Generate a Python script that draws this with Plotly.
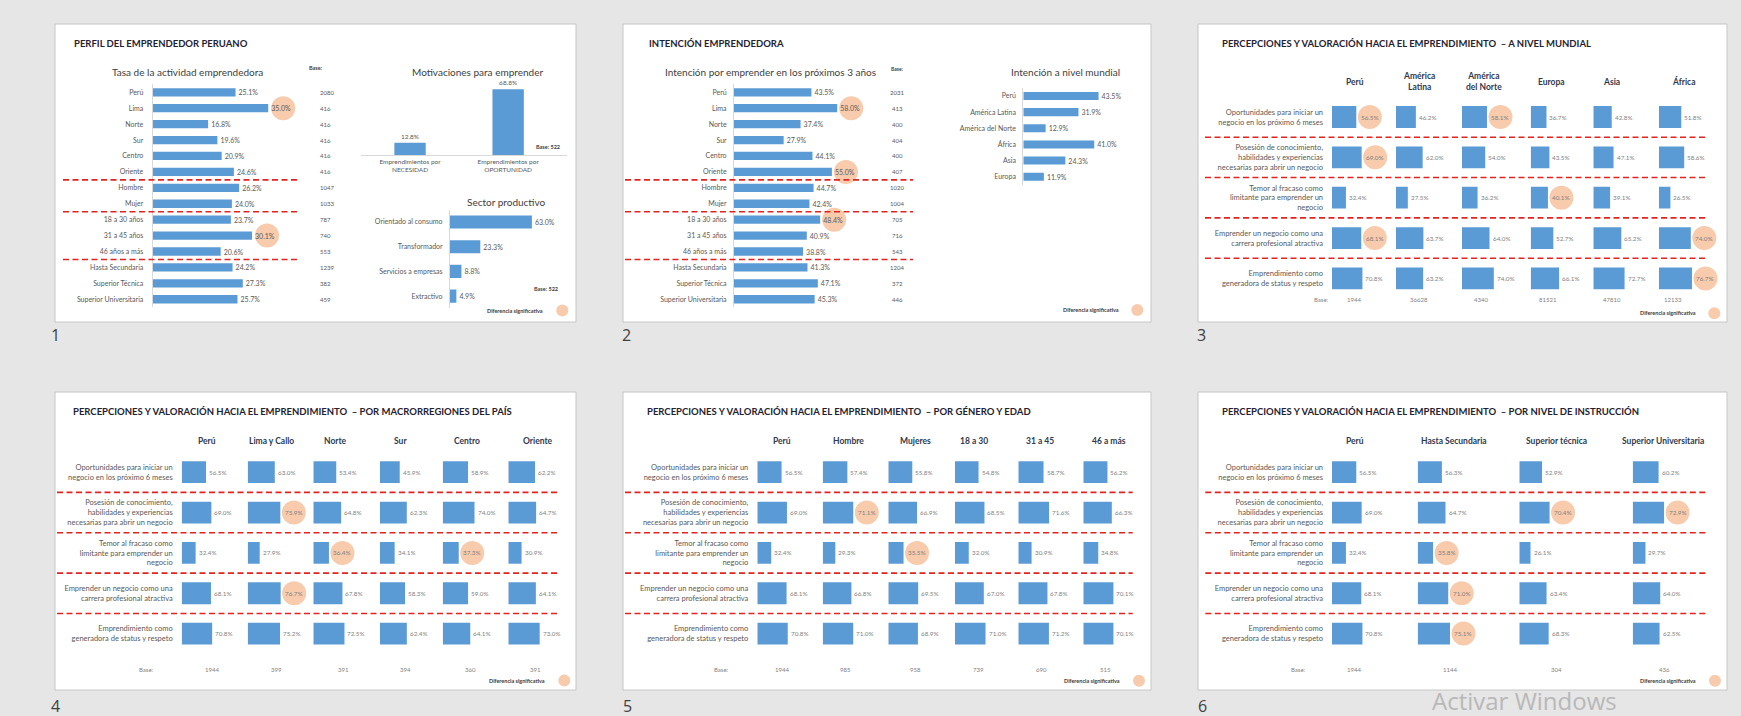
import plotly.graph_objects as go

# ------------------------------------------------------------------ DATA
segment_labels = ["Perú", "Lima", "Norte", "Sur", "Centro", "Oriente",
                  "Hombre", "Mujer",
                  "18 a 30 años", "31 a 45 años", "46 años a más",
                  "Hasta Secundaria", "Superior Técnica", "Superior Universitaria"]
segment_group_sizes = [6, 2, 3, 3]

tasa_values = [25.1, 35.0, 16.8, 19.6, 20.9, 24.6, 26.2, 24.0, 23.7, 30.1, 20.6, 24.2, 27.3, 25.7]
tasa_bases = [2080, 416, 416, 416, 416, 416, 1047, 1033, 787, 740, 553, 1239, 382, 459]
tasa_significant = ["Lima", "31 a 45 años"]

motiv_labels = ["Emprendimientos por<br>NECESIDAD", "Emprendimientos por<br>OPORTUNIDAD"]
motiv_values = [12.8, 68.8]
motiv_base = 522

sector_labels = ["Orientado al consumo", "Transformador", "Servicios a empresas", "Extractivo"]
sector_values = [63.0, 23.3, 8.8, 4.9]
sector_base = 522

intencion_values = [43.5, 58.0, 37.4, 27.9, 44.1, 55.0, 44.7, 42.4, 48.4, 40.9, 38.8, 41.3, 47.1, 45.3]
intencion_bases = [2031, 413, 400, 404, 400, 407, 1020, 1004, 705, 716, 543, 1204, 372, 446]
intencion_significant = ["Lima", "Oriente", "18 a 30 años"]

mundo_labels = ["Perú", "América Latina", "América del Norte", "África", "Asia", "Europa"]
mundo_values = [43.5, 31.9, 12.9, 41.0, 24.3, 11.9]

percep_rows = ["Oportunidades para iniciar un<br>negocio en los próximo 6 meses",
               "Posesión de conocimiento,<br>habilidades y experiencias<br>necesarias para abrir un negocio",
               "Temor al fracaso como<br>limitante para emprender un<br>negocio",
               "Emprender un negocio como una<br>carrera profesional atractiva",
               "Emprendimiento como<br>generadora de status y respeto"]

peru_values = [56.5, 69.0, 32.4, 68.1, 70.8]

wld_cols = ["Perú", "América<br>Latina", "América<br>del Norte", "Europa", "Asia", "África"]
wld_values = [peru_values,
              [46.2, 62.0, 27.5, 63.7, 63.2],
              [58.1, 54.0, 36.2, 64.0, 74.0],
              [36.7, 43.5, 40.1, 52.7, 66.1],
              [42.8, 47.1, 39.1, 65.2, 72.7],
              [51.8, 58.6, 26.5, 74.0, 76.7]]
wld_significant = [[0, 1, 3], [], [0], [2], [], [3, 4]]
wld_bases = [1944, 36628, 4340, 81521, 47810, 12133]

reg_cols = ["Perú", "Lima y Callo", "Norte", "Sur", "Centro", "Oriente"]
reg_values = [peru_values,
              [63.0, 75.9, 27.9, 76.7, 75.2],
              [53.4, 64.8, 36.4, 67.8, 72.5],
              [45.9, 62.3, 34.1, 58.3, 62.4],
              [58.9, 74.0, 37.3, 59.0, 64.1],
              [62.2, 64.7, 30.9, 64.1, 73.0]]
reg_significant = [[], [1, 3], [2], [], [2], []]
reg_bases = [1944, 399, 391, 394, 360, 391]

gen_cols = ["Perú", "Hombre", "Mujeres", "18 a 30", "31 a 45", "46 a más"]
gen_values = [peru_values,
              [57.4, 71.1, 29.3, 66.8, 71.0],
              [55.8, 66.9, 35.5, 69.5, 68.9],
              [54.8, 68.5, 32.0, 67.0, 71.0],
              [58.7, 71.6, 30.9, 67.8, 71.2],
              [56.2, 66.3, 34.8, 70.1, 70.1]]
gen_significant = [[], [1], [2], [], [], []]
gen_bases = [1944, 985, 958, 739, 690, 515]

edu_cols = ["Perú", "Hasta Secundaria", "Superior técnica", "Superior Universitaria"]
edu_values = [peru_values,
              [56.3, 64.7, 35.8, 71.0, 75.1],
              [52.9, 70.4, 26.1, 63.4, 68.3],
              [60.2, 72.9, 29.7, 64.0, 62.5]]
edu_significant = [[], [2, 3, 4], [1], [1]]
edu_bases = [1944, 1144, 304, 436]

# ------------------------------------------------------------------ STYLE / LAYOUT HELPERS
W, H = 1741, 716
FONT = "Lato"
BLUE = "#5B9BD5"
PEACH = "#F8CBAD"
RED = "#E3231E"
GREY = "#595959"
LABEL = "#7F7F7F"
HEAD = "#2F3A4F"
AXLINE = "#D9D9D9"


def px(x):
    return x / W


def py(y):
    return 1 - y / H


fig = go.Figure()
layout = {}
shapes = []
annotations = []
n_axes = [0]


def new_axes(x0, x1, ytop, ybot, xr, yr, xextra=None, yextra=None):
    n_axes[0] += 1
    s = "" if n_axes[0] == 1 else str(n_axes[0])
    xa = dict(domain=[px(x0), px(x1)], range=xr, anchor="y" + s, showgrid=False, zeroline=False,
              showticklabels=False, ticks="", showline=False, fixedrange=True)
    ya = dict(domain=[py(ybot), py(ytop)], range=yr, anchor="x" + s, showgrid=False, zeroline=False,
              showticklabels=False, ticks="", showline=False, fixedrange=True)
    if xextra:
        xa.update(xextra)
    if yextra:
        ya.update(yextra)
    layout["xaxis" + s] = xa
    layout["yaxis" + s] = ya
    return "x" + s, "y" + s


def text(x, y, s, size=7, color=GREY, bold=False, anchor="center", family=FONT):
    annotations.append(dict(x=px(x), y=py(y), xref="paper", yref="paper",
                            text=("<b>%s</b>" % s) if bold else s, showarrow=False,
                            xanchor=anchor, yanchor="middle", align="center",
                            font=dict(family=family, size=size, color=color)))


def sig_circle(xref, yref, xv, yv, dx, r=12):
    shapes.append(dict(type="circle", xref=xref, yref=yref, xsizemode="pixel", ysizemode="pixel",
                       xanchor=xv, yanchor=yv, x0=dx - r, x1=dx + r, y0=-r, y1=r,
                       fillcolor=PEACH, line=dict(width=0), layer="below"))


def red_line(x0, x1, yref, yv):
    shapes.append(dict(type="line", xref="paper", yref=yref, x0=px(x0), x1=px(x1), y0=yv, y1=yv,
                       line=dict(color=RED, width=1.6, dash="6px,3.5px"), layer="above"))


def legend(tx, cx, y):
    text(tx, y, "Diferencia significativa", size=5.5, color="#404040", bold=True)
    shapes.append(dict(type="circle", xref="paper", yref="paper",
                       x0=px(cx - 6), x1=px(cx + 6), y0=py(y + 6), y1=py(y - 6),
                       fillcolor=PEACH, line=dict(width=0), layer="above"))


def slide(x0, y0, x1, y1):
    shapes.append(dict(type="rect", xref="paper", yref="paper", x0=px(x0), x1=px(x1),
                       y0=py(y1), y1=py(y0), fillcolor="white",
                       line=dict(color="#C6C6C6", width=1), layer="below"))


def hbar_chart(labels, values, x0, scale, xmax, ytop, step, width, label_size=7, standoff=6):
    n = len(labels)
    top = ytop - step / 2
    xa, ya = new_axes(x0, x0 + xmax * scale, top, top + n * step, [0, xmax], [n - 0.5, -0.5],
                      yextra=dict(type="category", categoryorder="array", categoryarray=labels,
                                  showticklabels=True, showline=True, linecolor=AXLINE, linewidth=1,
                                  tickfont=dict(family=FONT, size=label_size, color=GREY),
                                  ticklabelstandoff=standoff))
    fig.add_trace(go.Bar(x=values, y=labels, orientation="h", xaxis=xa, yaxis=ya, width=width,
                         marker=dict(color=BLUE, line=dict(width=0)),
                         text=["%.1f%%" % v for v in values], textposition="outside",
                         cliponaxis=False, constraintext="none",
                         textfont=dict(family=FONT, size=7, color=GREY), hoverinfo="skip"))
    return xa, ya


# ------------------------------------------------------------------ SLIDE FRAMES
slide(55, 24, 576, 322)
slide(623, 24, 1151, 322)
slide(1198, 24, 1727, 322)
slide(55, 392, 576, 690)
slide(623, 392, 1151, 690)
slide(1198, 392, 1727, 690)

for num, (nx, ny) in zip(["1", "2", "3", "4", "5", "6"],
                         [(49, 335), (620, 335), (1195, 335), (49, 706), (621, 706), (1196, 706)]):
    text(nx, ny, num, size=16, color="#404040", anchor="left", family="Open Sans")

breaks = []
acc = 0
for g in segment_group_sizes[:-1]:
    acc += g
    breaks.append(acc - 0.5)

# ------------------------------------------------------------------ SLIDE 1
text(72, 44, "PERFIL DEL EMPRENDEDOR PERUANO", size=9.5, color="#1F2230", bold=True, anchor="left")
text(187.5, 72, "Tasa de la actividad emprendedora", size=10, color="#404040")
text(315.5, 68, "Base:", size=5.5, color="#404040", bold=True)
xa, ya = hbar_chart(segment_labels, tasa_values, 152.7, 3.3, 45, 92.3, 15.92, 0.52, standoff=7)
for i, b in enumerate(tasa_bases):
    annotations.append(dict(x=px(317.5), xref="paper", y=i, yref=ya, text=str(b), showarrow=False,
                            font=dict(family=FONT, size=6, color=GREY)))
for lab in tasa_significant:
    i = segment_labels.index(lab)
    sig_circle(xa, ya, tasa_values[i], i, 15)
for b in breaks:
    red_line(63, 300, ya, b)

# motivaciones (vertical bars)
text(477, 71.7, "Motivaciones para emprender", size=10, color="#404040")
xb, yb = new_axes(361, 567, 155 - 80 * 0.955, 155, [-0.5, 1.6], [0, 80],
                  xextra=dict(type="category", categoryorder="array", categoryarray=motiv_labels,
                              showticklabels=True, showline=True, linecolor=AXLINE, linewidth=1,
                              tickfont=dict(family=FONT, size=6.5, color=GREY)))
fig.add_trace(go.Bar(x=motiv_labels, y=motiv_values, xaxis=xb, yaxis=yb, width=0.32,
                     marker=dict(color=BLUE, line=dict(width=0)),
                     text=["%.1f%%" % v for v in motiv_values], textposition="outside",
                     cliponaxis=False, constraintext="none",
                     textfont=dict(family=FONT, size=6.5, color=GREY), hoverinfo="skip"))
text(548, 146.7, "Base: %d" % motiv_base, size=5.5, color="#404040", bold=True)

# sector productivo
text(506, 201.7, "Sector productivo", size=10, color="#404040")
hbar_chart(sector_labels, sector_values, 450, 1.3, 80, 222, 24.7, 0.53, label_size=7, standoff=5)
text(546, 289.3, "Base: %d" % sector_base, size=5.5, color="#404040", bold=True)
legend(515.3, 562.3, 310.5)

# ------------------------------------------------------------------ SLIDE 2
text(646.7, 44, "INTENCIÓN EMPRENDEDORA", size=9.5, color="#1F2230", bold=True, anchor="left")
text(770, 72, "Intención por emprender en los próximos 3 años", size=10, color="#404040")
text(897, 69, "Base:", size=5, color="#404040", bold=True)
xa, ya = hbar_chart(segment_labels, intencion_values, 734, 1.78, 75, 92.3, 15.92, 0.52, standoff=5)
for i, b in enumerate(intencion_bases):
    annotations.append(dict(x=px(897.3), xref="paper", y=i, yref=ya, text=str(b), showarrow=False,
                            font=dict(family=FONT, size=6, color=GREY)))
for lab in intencion_significant:
    i = segment_labels.index(lab)
    sig_circle(xa, ya, intencion_values[i], i, 14)
for b in breaks:
    red_line(625, 913, ya, b)

text(1065, 72, "Intención a nivel mundial", size=10, color="#404040")
hbar_chart(mundo_labels, mundo_values, 1023.3, 1.73, 60, 96, 16.14, 0.5, standoff=5)
legend(1091.3, 1137.3, 310)


# ------------------------------------------------------------------ PERCEPTION SLIDES
SC = 0.43  # px per percentage point


def perception_slide(title, title_x, title_y, cols, values, significant, bases, col_starts,
                     header_xs, header_y, base_xs, base_y, base_label_x, row_top,
                     line_x0, line_x1, legend_pos):
    text(title_x, title_y, title, size=9.5, color="#1F2230", bold=True, anchor="left")
    step = 40.35
    top = row_top - step / 2
    first_y = None
    for j, col in enumerate(cols):
        xa, ya = new_axes(col_starts[j], col_starts[j] + 140 * SC, top, top + 5 * step, [0, 140],
                          [4.5, -0.5],
                          yextra=dict(type="category", categoryorder="array", categoryarray=percep_rows,
                                      showticklabels=(j == 0),
                                      tickfont=dict(family=FONT, size=7.5, color=GREY),
                                      ticklabelstandoff=8))
        if first_y is None:
            first_y = ya
        fig.add_trace(go.Bar(x=values[j], y=percep_rows, orientation="h", xaxis=xa, yaxis=ya, width=0.54,
                             marker=dict(color=BLUE, line=dict(width=0)), hoverinfo="skip"))
        for i, v in enumerate(values[j]):
            sig = i in significant[j]
            if sig:
                sig_circle(xa, ya, v, i, 13.5)
            annotations.append(dict(xref=xa, yref=ya, x=v, y=i, text="%.1f%%" % v, showarrow=False,
                                    xanchor="center" if sig else "left", xshift=13.5 if sig else 1,
                                    font=dict(family=FONT, size=6.3, color=LABEL)))
        text(header_xs[j], header_y, col, size=8.5, color=HEAD, bold=True)
        text(base_xs[j], base_y, str(bases[j]), size=6, color=LABEL)
    text(base_label_x, base_y, "Base:", size=6, color=LABEL)
    for k in range(4):
        red_line(line_x0, line_x1, first_y, k + 0.5)
    legend(*legend_pos)


perception_slide("PERCEPCIONES Y VALORACIÓN HACIA EL EMPRENDIMIENTO  – A NIVEL MUNDIAL", 1220.3, 44,
                 wld_cols, wld_values, wld_significant, wld_bases,
                 [1332, 1396, 1462, 1530.7, 1593.3, 1659],
                 [1355.3, 1419.3, 1484, 1551, 1611.7, 1684], 81.5,
                 [1353.7, 1418.7, 1480.7, 1548.3, 1611.7, 1673.3], 300, 1321.7, 117,
                 1205, 1707, (1667.7, 1714.3, 313.3))

perception_slide("PERCEPCIONES Y VALORACIÓN HACIA EL EMPRENDIMIENTO  – POR MACRORREGIONES DEL PAÍS", 70.7, 411.7,
                 reg_cols, reg_values, reg_significant, reg_bases,
                 [181.7, 247.7, 313.3, 380, 442.7, 508.3],
                 [206.7, 271.7, 335, 400, 466.7, 538.3], 441,
                 [211.7, 276.7, 343.3, 405, 470, 535], 669, 146.7, 472.2,
                 57, 558.3, (517.2, 564.3, 680.5))

perception_slide("PERCEPCIONES Y VALORACIÓN HACIA EL EMPRENDIMIENTO  – POR GÉNERO Y EDAD", 645, 411.7,
                 gen_cols, gen_values, gen_significant, gen_bases,
                 [757.3, 822.7, 888.3, 955, 1018.3, 1083.3],
                 [781.7, 848.3, 915, 974, 1040, 1109.3], 441,
                 [781.7, 845, 915, 978.3, 1041.7, 1105], 669, 721, 472.2,
                 625, 1132.7, (1092.2, 1139, 680.7))

perception_slide("PERCEPCIONES Y VALORACIÓN HACIA EL EMPRENDIMIENTO  – POR NIVEL DE INSTRUCCIÓN", 1220.3, 411.7,
                 edu_cols, edu_values, edu_significant, edu_bases,
                 [1332, 1417.7, 1519.3, 1632.7],
                 [1355.3, 1454, 1556, 1662.7], 441,
                 [1353.7, 1450.3, 1556.7, 1664], 669, 1298.7, 472.2,
                 1205.3, 1707.3, (1668.3, 1715, 680.7))

# watermark
text(1430, 700, "Activar Windows", size=24, color="#B8B8B8", anchor="left", family="Open Sans")

layout.update(dict(width=W, height=H, margin=dict(l=0, r=0, t=0, b=0),
                   paper_bgcolor="#E6E6E6", plot_bgcolor="rgba(0,0,0,0)",
                   showlegend=False, shapes=shapes, annotations=annotations,
                   font=dict(family=FONT, color=GREY)))
fig.update_layout(**layout)
fig.write_html("out.html", config={"displayModeBar": False, "staticPlot": True},
               post_script="document.body.style.margin='0';document.body.style.overflow='hidden';"
                           "document.body.style.background='#E6E6E6';")
